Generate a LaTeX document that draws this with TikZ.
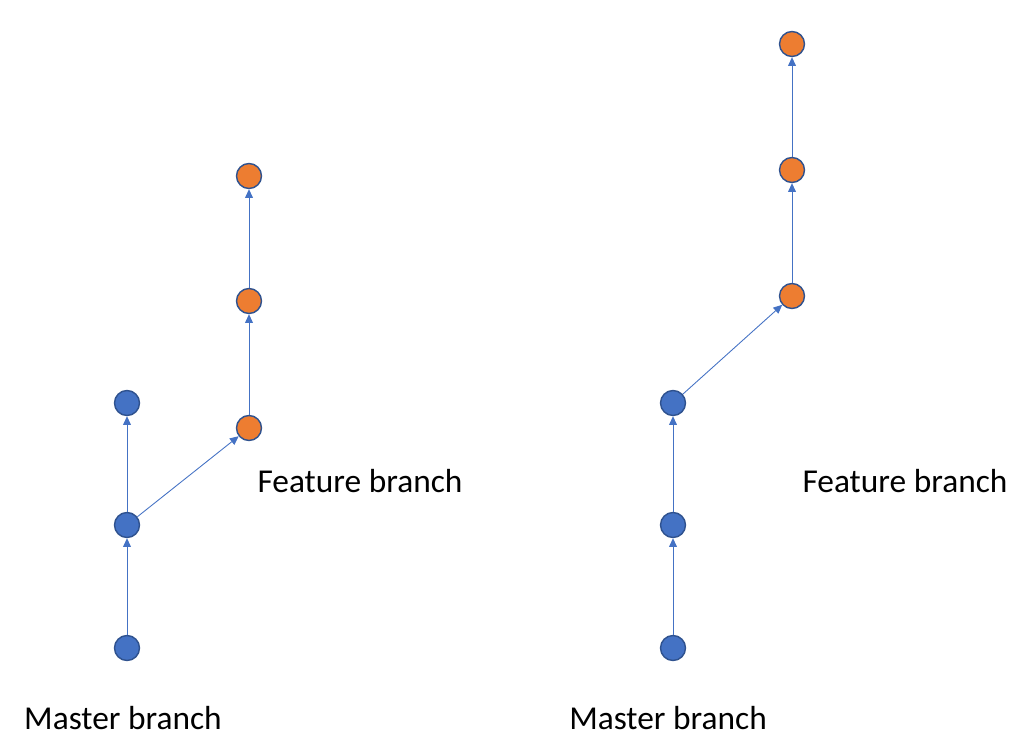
\documentclass[tikz,border=0pt]{standalone}
\usepackage{fontspec}
\setmainfont{Carlito}
\usetikzlibrary{arrows.meta}
\definecolor{cblue}{HTML}{4472C4}
\definecolor{corange}{HTML}{ED7D31}
\definecolor{cedge}{HTML}{2F528F}
\begin{document}
\begin{tikzpicture}[x=0.02cm,y=-0.02cm,
  commit/.style={circle,draw=cedge,line width=0.8pt,minimum size=0.5cm,inner sep=0pt},
  m/.style={commit,fill=cblue},
  f/.style={commit,fill=corange},
  arr/.style={draw=cblue,line width=0.5pt,-{Triangle[length=5pt,width=4.5pt]}},
  lbl/.style={font=\fontsize{19}{22}\selectfont}]
\useasboundingbox (0,0) rectangle (1024,750);
\node[m] (a1) at (127,648) {};
\node[m] (a2) at (127,525) {};
\node[m] (a3) at (127,403) {};
\node[f] (b1) at (249,428) {};
\node[f] (b2) at (249,301) {};
\node[f] (b3) at (249,176) {};
\draw[arr] (a1) -- (a2);
\draw[arr] (a2) -- (a3);
\draw[arr] (a2) -- (b1);
\draw[arr] (b1) -- (b2);
\draw[arr] (b2) -- (b3);
\node[lbl] (ml) at (123,718) {Master branch};
\node[lbl] (fl) at (360,481) {Feature branch};
\node[m] (c1) at (673,648) {};
\node[m] (c2) at (673,525) {};
\node[m] (c3) at (673,403) {};
\node[f] (d1) at (792,296) {};
\node[f] (d2) at (792,170) {};
\node[f] (d3) at (792,44) {};
\draw[arr] (c1) -- (c2);
\draw[arr] (c2) -- (c3);
\draw[arr] (c3) -- (d1);
\draw[arr] (d1) -- (d2);
\draw[arr] (d2) -- (d3);
\node[lbl] (ml2) at (668,718) {Master branch};
\node[lbl] (fl2) at (905,481) {Feature branch};
\end{tikzpicture}
\end{document}
